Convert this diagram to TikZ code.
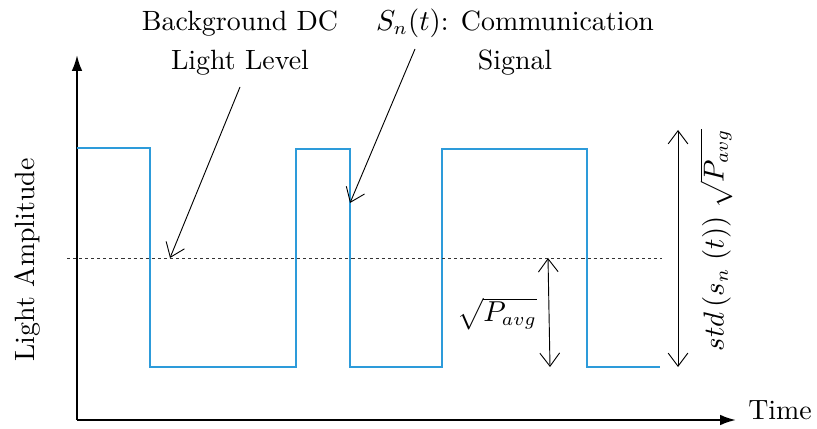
\documentclass[tikz,border=0pt]{standalone}
\usetikzlibrary{arrows.meta}
\definecolor{sig}{RGB}{45,155,218}
\begin{document}
\begin{tikzpicture}[x=0.38pt,y=-0.38pt,
  font=\fontsize{10.6}{12.7}\selectfont,
  axis/.style={line width=0.8pt,-{Latex[length=6pt,width=4pt]}},
  pointer/.style={line width=0.35pt,-{Straight Barb[length=5pt,width=7.5pt]}},
  dim/.style={line width=0.35pt,{Straight Barb[length=5pt,width=7.5pt]}-{Straight Barb[length=5pt,width=7.5pt]}},
  lbl/.style={align=center,inner sep=0pt}]
\useasboundingbox (0,0) rectangle (817,429);
% axes
\coordinate (O) at (77,420);
\coordinate (ytop) at (77,55);
\coordinate (xend) at (736,420);
\draw[axis] (O) -- (ytop);
\draw[axis] (O) -- (xend);
\node[lbl] (time) at (780,410) {Time};
\node[lbl,rotate=90] (amp) at (27,260) {Light Amplitude};
% signal
\draw[sig,line width=0.8pt] (77,148) -- (150,148) -- (150,367) -- (296,367) -- (296,149) -- (350,149) -- (350,367) -- (442,367) -- (442,149) -- (587,149) -- (587,367) -- (660,367);
% dc level
\coordinate (dcL) at (67,258);
\coordinate (dcR) at (662,258);
\draw[black!80,line width=0.35pt,dash pattern=on 1.15pt off 1.15pt] (dcL) -- (dcR);
% labels
\node[lbl] (bg) at (240,43) {Background DC\\[2pt]Light Level};
\node[lbl] (sn) at (515,42) {$S_n(t)$: Communication\\[2pt]Signal};
\coordinate (bgs) at (240,87);
\coordinate (bge) at (170,258);
\coordinate (sns) at (415,49);
\coordinate (sne) at (350,203);
\draw[pointer] (bgs) -- (bge);
\draw[pointer] (sns) -- (sne);
% dimension arrows
\coordinate (d1a) at (548,258);
\coordinate (d1b) at (550,367);
\draw[dim] (d1a) -- (d1b);
\node[lbl] (pavg) at (497,314) {$\sqrt{P_{avg}}$};
\coordinate (d2a) at (678,130);
\coordinate (d2b) at (678,367);
\draw[dim] (d2a) -- (d2b);
\node[lbl,rotate=90] (std) at (716,240) {$std\,(s_n\;(t))\;\sqrt{P_{avg}}$};
\end{tikzpicture}
\end{document}
